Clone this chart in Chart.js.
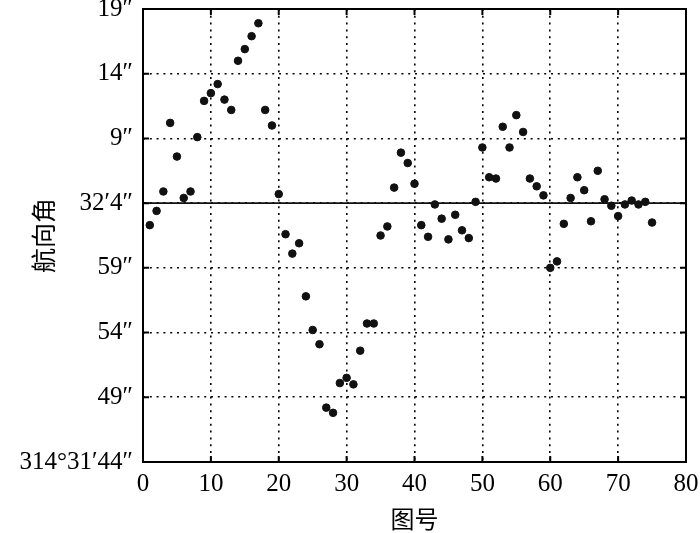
<!DOCTYPE html>
<html>
<head>
<meta charset="utf-8">
<script src="https://cdn.jsdelivr.net/npm/chart.js@4"></script>
<style>
  html, body { margin: 0; padding: 0; background: #fff; }
  #wrap { width: 700px; height: 533px; }
</style>
</head>
<body>
<div id="wrap"><canvas id="chart"></canvas></div>
<script>
// 图号 1..75
const figNo = [];
for (let i = 1; i <= 75; i++) figNo.push(i);

// heading angle, in seconds after 314°31'0" (64 = 32'4")
const heading = [
  62.3, 63.4, 64.9, 70.2, 67.6, 64.4, 64.9, 69.1, 71.9, 72.5,
  73.2, 72.0, 71.2, 75.0, 75.9, 76.9, 77.9, 71.2, 70.0, 64.7,
  61.6, 60.1, 60.9, 56.8, 54.2, 53.1, 48.2, 47.8, 50.1, 50.5,
  50.0, 52.6, 54.7, 54.7, 61.5, 62.2, 65.2, 67.9, 67.1, 65.5,
  62.3, 61.4, 63.9, 62.8, 61.2, 63.1, 61.9, 61.3, 64.1, 68.3,
  66.0, 65.9, 69.9, 68.3, 70.8, 69.5, 65.9, 65.3, 64.6, 59.0,
  59.5, 62.4, 64.4, 66.0, 65.0, 62.6, 66.5, 64.3, 63.8, 63.0,
  63.9, 64.2, 63.9, 64.1, 62.5
];

const meanLine = 64;
const xTicks = [0, 10, 20, 30, 40, 50, 60, 70, 80];
const yTickValues = [44, 49, 54, 59, 64, 69, 74, 79];
const yTickLabels = ['314°31′44″', '49″', '54″', '59″', '32′4″', '9″', '14″', '19″'];

const serif = '"Liberation Serif", "DejaVu Serif", serif';
const cjk = '"Noto Sans CJK SC", "Noto Sans", sans-serif';

// frame + inward tick marks
const framePlugin = {
    id: 'frame',
    afterDatasetsDraw(chart) {
        const { ctx, chartArea: a, scales } = chart;
        ctx.save();
        ctx.strokeStyle = '#000';
        ctx.lineWidth = 2;
        ctx.setLineDash([]);
        ctx.strokeRect(a.left, a.top, a.right - a.left, a.bottom - a.top);
        const len = 6;
        ctx.beginPath();
        xTicks.forEach(v => {
            const px = scales.x.getPixelForValue(v);
            ctx.moveTo(px, a.bottom); ctx.lineTo(px, a.bottom - len);
            ctx.moveTo(px, a.top); ctx.lineTo(px, a.top + len);
        });
        yTickValues.forEach(v => {
            const py = scales.y.getPixelForValue(v);
            ctx.moveTo(a.left, py); ctx.lineTo(a.left + len, py);
            ctx.moveTo(a.right, py); ctx.lineTo(a.right - len, py);
        });
        ctx.stroke();
        ctx.restore();
    }
};

new Chart(document.getElementById('chart'), {
    type: 'scatter',
    data: {
        datasets: [
            {
                label: 'heading',
                data: figNo.map((x, i) => ({ x: x, y: heading[i] })),
                backgroundColor: '#111',
                borderColor: '#111',
                pointRadius: 3.8,
                pointHoverRadius: 3.8
            },
            {
                label: 'mean',
                type: 'line',
                data: [{ x: 0, y: meanLine }, { x: 80, y: meanLine }],
                borderColor: '#111',
                borderWidth: 1.8,
                pointRadius: 0
            }
        ]
    },
    options: {
        responsive: true, maintainAspectRatio: false, animation: false,
        layout: { padding: { top: 9, right: 14, left: 0, bottom: 0 } },
        plugins: { legend: { display: false }, tooltip: { enabled: false } },
        scales: {
            x: {
                type: 'linear', min: 0, max: 80,
                afterBuildTicks: axis => { axis.ticks = xTicks.map(v => ({ value: v })); },
                afterFit: scale => { scale.height = 71; scale.paddingRight = 0; scale.paddingLeft = 0; },
                grid: { color: '#000', lineWidth: 1.6, drawTicks: false },
                border: { display: false, dash: [2, 4.8] },
                ticks: { color: '#000', font: { family: serif, size: 25 }, padding: 7, maxRotation: 0 },
                title: { display: true, text: '图号', color: '#000', font: { family: cjk, size: 24 }, padding: { top: 0, bottom: 0 } }
            },
            y: {
                min: 44, max: 79,
                afterBuildTicks: axis => { axis.ticks = yTickValues.map(v => ({ value: v })); },
                afterFit: scale => { scale.width = 143; scale.paddingTop = 0; scale.paddingBottom = 0; },
                grid: { color: '#000', lineWidth: 1.6, drawTicks: false },
                border: { display: false, dash: [2, 4.8] },
                ticks: {
                    color: '#000', font: { family: serif, size: 25 }, padding: 10,
                    callback: v => yTickLabels[yTickValues.indexOf(v)]
                },
                title: { display: true, text: '航向角', color: '#000', font: { family: cjk, size: 25 }, padding: { top: 28, bottom: 0 } }
            }
        }
    },
    plugins: [framePlugin]
});
</script>
</body>
</html>
